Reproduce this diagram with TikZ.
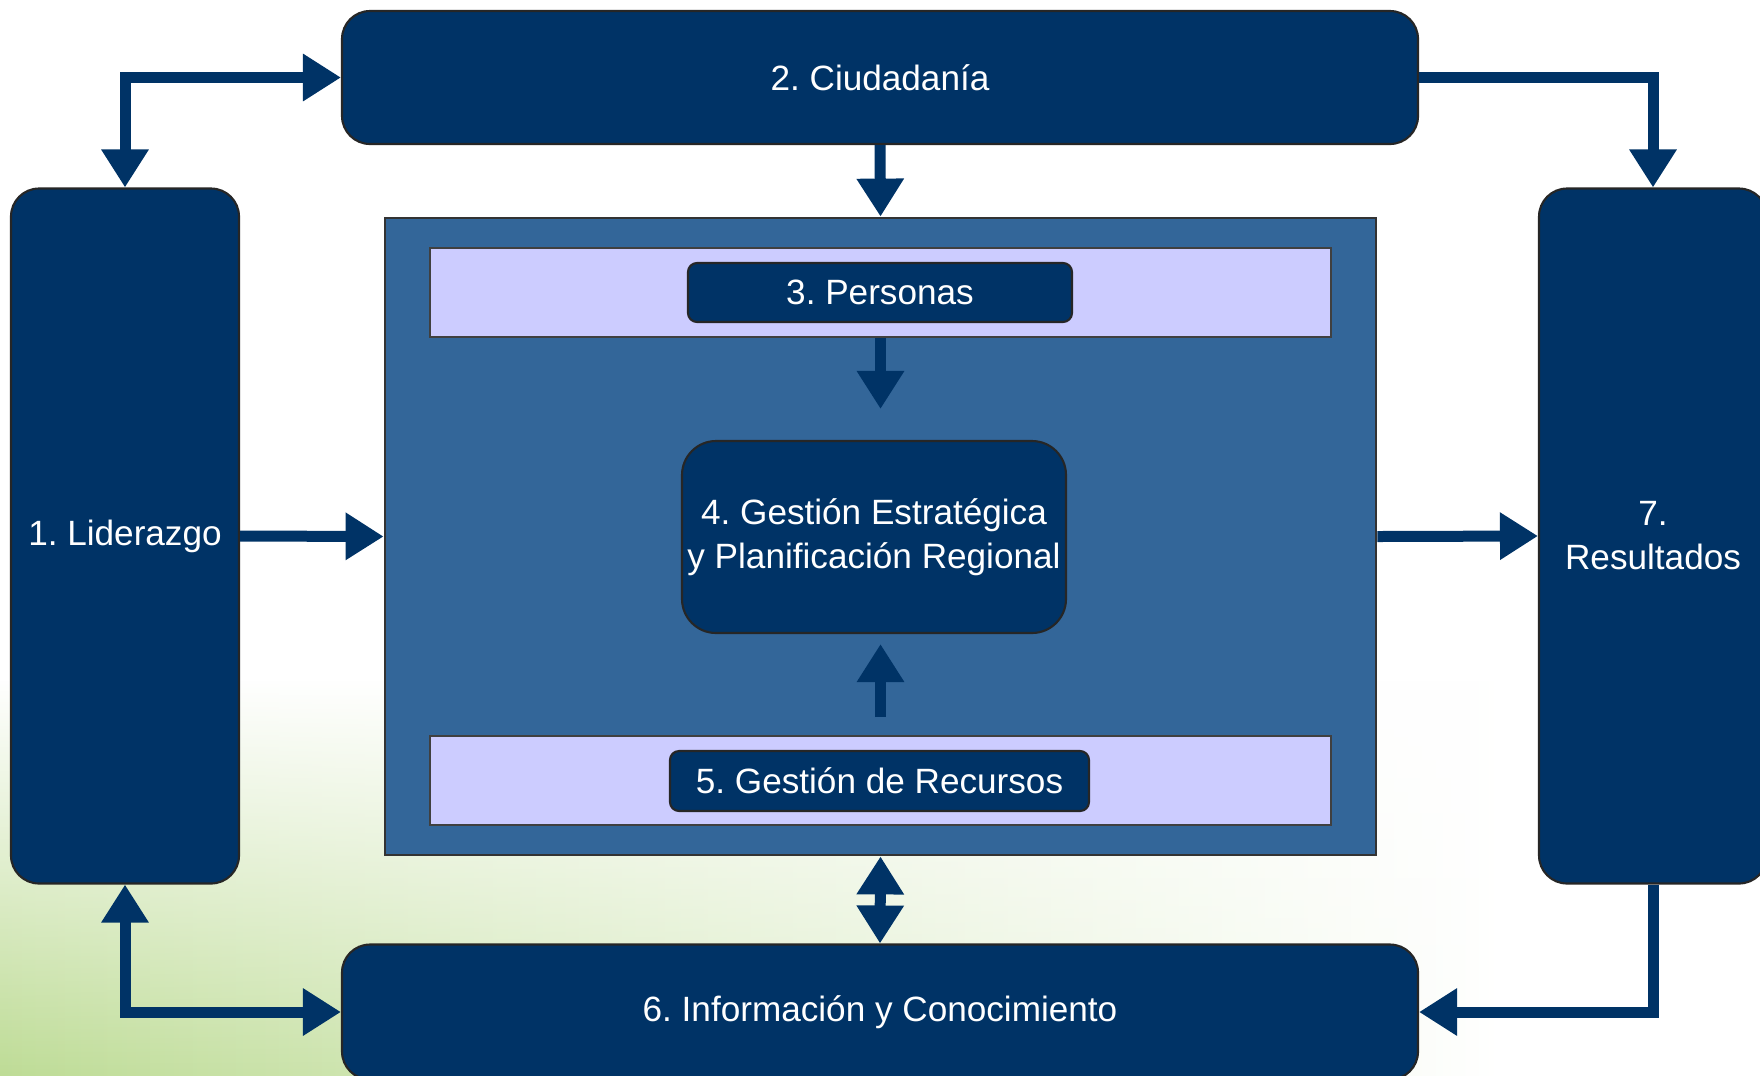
\documentclass[tikz,border=0pt]{standalone}
\usepackage{fontspec}
\setmainfont{Liberation Sans}
\usetikzlibrary{arrows.meta,fadings}
\definecolor{navy}{RGB}{0,51,102}
\definecolor{steel}{RGB}{51,102,153}
\definecolor{lilac}{RGB}{204,204,255}
\definecolor{leaf}{RGB}{190,220,150}
\frenchspacing

\begin{document}
\begin{tikzpicture}[x=0.1mm, y=-0.1mm,
  every node/.style={font=\fontsize{10}{12.5}\selectfont, text=white, align=center, inner sep=0pt},
  main box/.style={draw=black!85, line width=0.6pt, fill=navy, rounded corners=2.8mm},
  inner box/.style={draw=black!85, line width=0.6pt, fill=navy},
  strip/.style={draw=black!75, line width=0.5pt, fill=lilac},
  flow/.style={draw=navy, line width=1.1mm, >={Triangle[width=4.5mm,length=3.8mm]}},
  ]
  \useasboundingbox (0,0) rectangle (1760,1075);
  \fill[white] (0,0) rectangle (1760,1075);
  \shade[left color=leaf, right color=white, path fading=north] (0,680) rectangle (1500,1075);

  % outer boxes
  \node[main box, minimum width=22.8mm, minimum height=69.5mm] (lid) at (125,536) {1. Liderazgo};
  \node[main box, minimum width=107.6mm, minimum height=13.3mm] (ciu) at (880,77.5) {2. Ciudadanía};
  \node[main box, minimum width=22.8mm, minimum height=69.5mm] (res) at (1653,536) {7.\\Resultados};
  \node[main box, minimum width=107.6mm, minimum height=13.5mm] (inf) at (880,1012) {6. Información y Conocimiento};

  % processes
  \node[draw=black!80, line width=0.8pt, fill=steel, minimum width=99.1mm, minimum height=63.7mm] (proc) at (880.5,536.5) {};
  \node[strip, minimum width=90.1mm, minimum height=8.9mm] (stripA) at (880.5,292.5) {};
  \node[strip, minimum width=90.1mm, minimum height=8.9mm] (stripB) at (880.5,780.5) {};
  \node[inner box, rounded corners=0.9mm, minimum width=38.4mm, minimum height=5.9mm] (per) at (880,292.5) {3. Personas};
  \node[inner box, rounded corners=3.4mm, minimum width=38.4mm, minimum height=19.2mm] (gest) at (874,537) {4. Gestión Estratégica\\y Planificación Regional};
  \node[inner box, rounded corners=0.9mm, minimum width=41.9mm, minimum height=6mm] (rec) at (879.5,781) {5. Gestión de Recursos};

  % connectors
  \draw[flow, <->] (lid.north) |- (ciu.west);
  \draw[flow, ->] (ciu.east) -| (res.north);
  \draw[flow, ->] (ciu.south) -- (proc.north);
  \draw[flow, ->] (lid.east) -- (proc.west);
  \draw[flow, ->] (proc.east) -- (res.west);
  \draw[flow, ->] (stripA.south) -- ([yshift=3.1mm]gest.north -| stripA.south);
  \draw[flow, ->] ([yshift=1.8mm]stripB.north) -- ([yshift=-1mm]gest.south -| stripB.north);
  \draw[flow, <->] (proc.south) -- (inf.north);
  \draw[flow, <->] (lid.south) |- (inf.west);
  \draw[flow, ->] (res.south) |- (inf.east);
\end{tikzpicture}
\end{document}
